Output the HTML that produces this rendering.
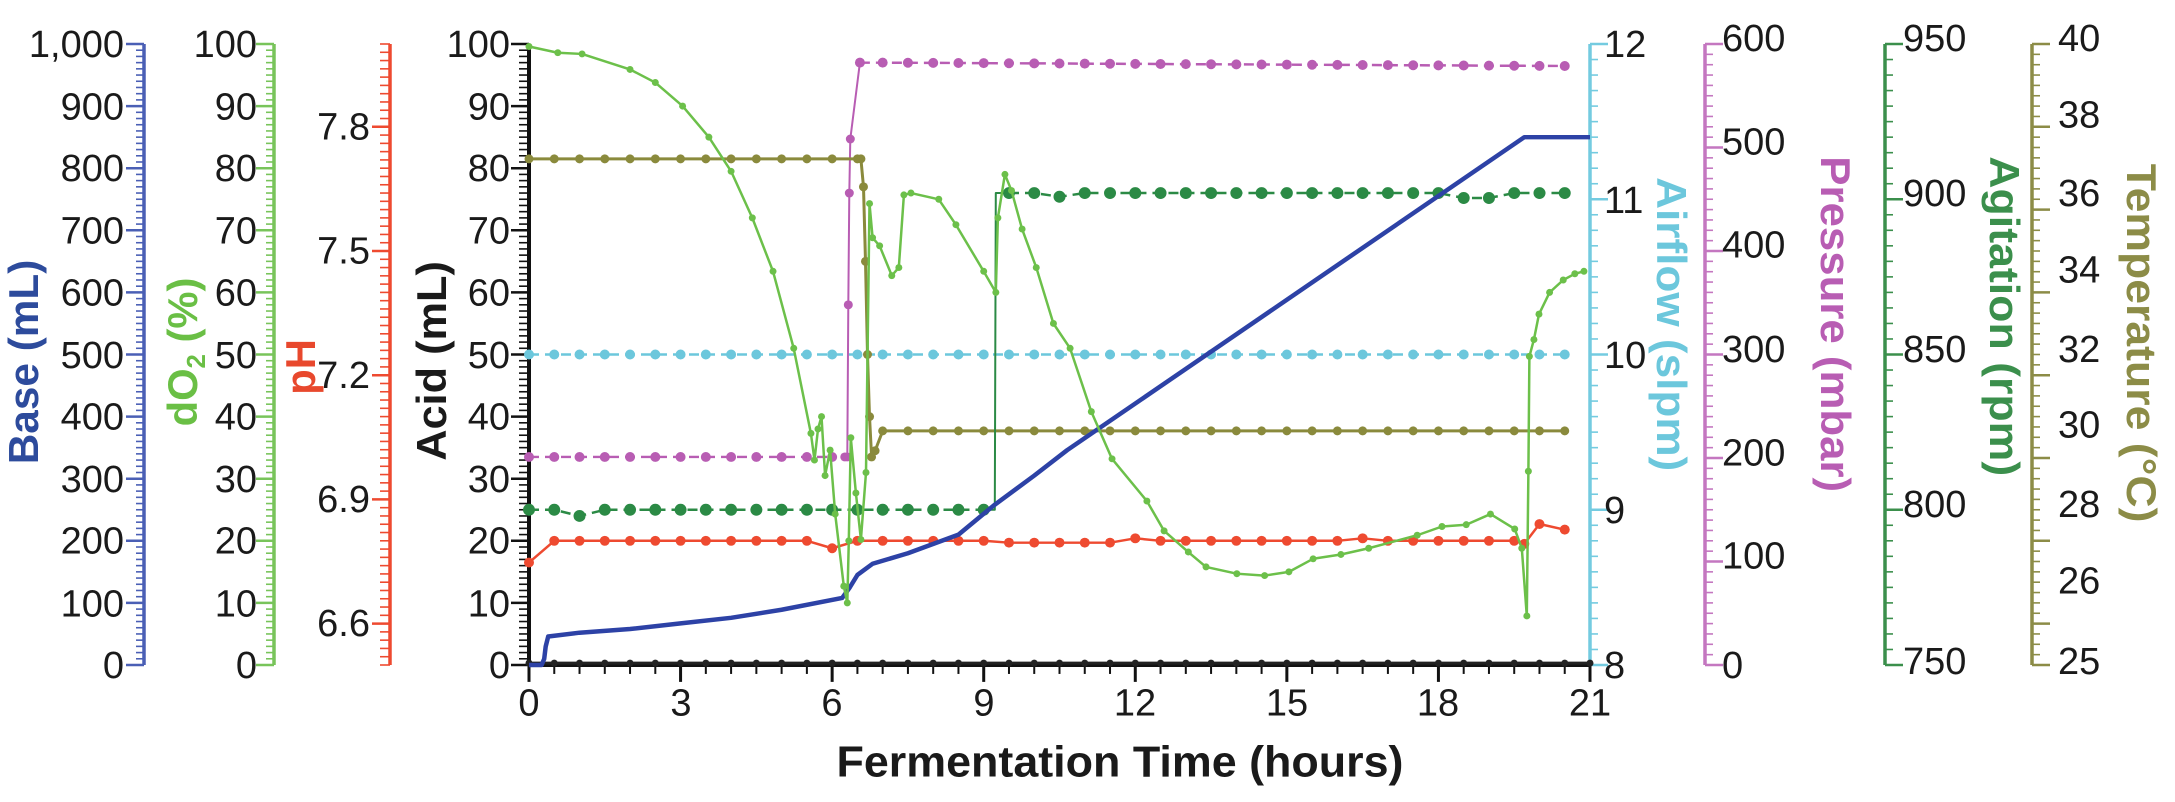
<!DOCTYPE html>
<html><head><meta charset="utf-8">
<style>
html,body{margin:0;padding:0;background:#fff;}
svg{display:block;}
text{font-family:"Liberation Sans",sans-serif;}
.tk{font-size:38px;fill:#1a1a1a;}
.tt{font-size:42px;font-weight:bold;}
</style></head>
<body>
<svg id="s" width="2175" height="802" viewBox="0 0 2175 802" xmlns="http://www.w3.org/2000/svg">
<g transform="translate(0,-5.68) scale(1,0.9936)">
<g id="ticks"></g>
<g id="data"></g>
<!-- left tick labels -->
<g class="tk" text-anchor="end">
<text x="124" y="63">1,000</text><text x="124" y="126">900</text><text x="124" y="188">800</text><text x="124" y="251">700</text><text x="124" y="313">600</text><text x="124" y="376">500</text><text x="124" y="438">400</text><text x="124" y="501">300</text><text x="124" y="563">200</text><text x="124" y="626">100</text><text x="124" y="688">0</text>
<text x="257" y="63">100</text><text x="257" y="126">90</text><text x="257" y="188">80</text><text x="257" y="251">70</text><text x="257" y="313">60</text><text x="257" y="376">50</text><text x="257" y="438">40</text><text x="257" y="501">30</text><text x="257" y="563">20</text><text x="257" y="626">10</text><text x="257" y="688">0</text>
<text x="370" y="146">7.8</text><text x="370" y="271">7.5</text><text x="370" y="396">7.2</text><text x="370" y="521">6.9</text><text x="370" y="646">6.6</text>
<text x="510" y="63">100</text><text x="510" y="126">90</text><text x="510" y="188">80</text><text x="510" y="251">70</text><text x="510" y="313">60</text><text x="510" y="376">50</text><text x="510" y="438">40</text><text x="510" y="501">30</text><text x="510" y="563">20</text><text x="510" y="626">10</text><text x="510" y="688">0</text>
</g>
<!-- right tick labels -->
<g class="tk">
<text x="1604" y="63">12</text><text x="1604" y="220">11</text><text x="1604" y="376">10</text><text x="1604" y="532">9</text><text x="1604" y="688">8</text>
<text x="1722" y="57">600</text><text x="1722" y="161">500</text><text x="1722" y="265">400</text><text x="1722" y="370">300</text><text x="1722" y="474">200</text><text x="1722" y="578">100</text><text x="1722" y="688">0</text>
<text x="1903" y="57">950</text><text x="1903" y="213">900</text><text x="1903" y="370">850</text><text x="1903" y="526">800</text><text x="1903" y="684">750</text>
<text x="2058" y="57">40</text><text x="2058" y="134">38</text><text x="2058" y="213">36</text><text x="2058" y="290">34</text><text x="2058" y="370">32</text><text x="2058" y="446">30</text><text x="2058" y="526">28</text><text x="2058" y="603">26</text><text x="2058" y="684">25</text>
</g>
<!-- x tick labels -->
<g class="tk" text-anchor="middle">
<text x="529" y="726">0</text><text x="681" y="726">3</text><text x="832" y="726">6</text><text x="984" y="726">9</text><text x="1135" y="726">12</text><text x="1287" y="726">15</text><text x="1438" y="726">18</text><text x="1590" y="726">21</text>
</g>
<text x="1120" y="787" text-anchor="middle" font-weight="bold" font-size="44" fill="#1a1a1a" textLength="567" lengthAdjust="spacingAndGlyphs">Fermentation Time (hours)</text>
<!-- axis titles -->
<text class="tt" transform="translate(38,370) rotate(-90)" text-anchor="middle" fill="#2d4b9c" textLength="206" lengthAdjust="spacingAndGlyphs">Base (mL)</text>
<text class="tt" transform="translate(197,360) rotate(-90)" text-anchor="middle" fill="#6abf45">dO<tspan font-size="26" dy="8">2</tspan><tspan dy="-8"> (%)</tspan></text>
<text class="tt" transform="translate(315,375) rotate(-90)" text-anchor="middle" fill="#e8482d">pH</text>
<text class="tt" transform="translate(446,369) rotate(-90)" text-anchor="middle" fill="#1a1a1a" textLength="201" lengthAdjust="spacingAndGlyphs">Acid (mL)</text>
<text class="tt" transform="translate(1657,332) rotate(90)" text-anchor="middle" fill="#6cc7dc" textLength="296" lengthAdjust="spacingAndGlyphs">Airflow (slpm)</text>
<text class="tt" transform="translate(1821,332) rotate(90)" text-anchor="middle" fill="#b85db3" textLength="338" lengthAdjust="spacingAndGlyphs">Pressure (mbar)</text>
<text class="tt" transform="translate(1990,324) rotate(90)" text-anchor="middle" fill="#3b8f4c" textLength="322" lengthAdjust="spacingAndGlyphs">Agitation (rpm)</text>
<text class="tt" transform="translate(2127,351) rotate(90)" text-anchor="middle" fill="#8c8c47" textLength="361" lengthAdjust="spacingAndGlyphs">Temperature (°C)</text>
</g>
</svg>
<script>
var NS="http://www.w3.org/2000/svg";
var T=document.getElementById('ticks'),D=document.getElementById('data');
function el(p,n,a){var e=document.createElementNS(NS,n);for(var k in a)e.setAttribute(k,a[k]);p.appendChild(e);return e;}
function ln(p,x1,y1,x2,y2,c,w){el(p,'line',{x1:x1,y1:y1,x2:x2,y2:y2,stroke:c,'stroke-width':w});}
var Y0=675,YT=50,H=625,XA=529,XB=1590;
function axis(x,c,w,nMinor,majorEvery,dir,minLen,majLen,yf,vmin,vmax,step){
  ln(T,x,YT,x,Y0,c,w);
  if(yf){
    for(var v=vmin;v<=vmax+1e-9;v+=step){var y=yf(v);if(y<YT-1||y>Y0+1)continue;
      var m=Math.abs((v-majorEvery.base)/majorEvery.step-Math.round((v-majorEvery.base)/majorEvery.step))<1e-6;
      var L=m?majLen:minLen;ln(T,x,y,x+dir*L,y,c,m?2.5:1.6);}
    return;}
  for(var i=0;i<=nMinor;i++){var y=Y0-H*i/nMinor;var m=i%majorEvery==0;var L=m?majLen:minLen;ln(T,x,y,x+dir*L,y,c,m?2.5:1.6);}
}
axis(144,'#4a5fb5',3.5,100,10,-1,8,18);
axis(274,'#78c45a',3.5,100,10,-1,8,18);
function phY(v){var f=665-(v-6.5)*414;return (f+5.68)/0.9936;}
axis(390,'#ee4a30',3.5,0,{base:6.6,step:0.3},-1,10,18,phY,6.5,8.0,0.02);
axis(XA,'#111',4,100,10,-1,10,18);
axis(1590,'#74cbe0',3.5,40,10,1,8,18);
axis(1705,'#c477c0',3.5,60,10,1,8,18);
axis(1885,'#3b8f4c',3.5,40,10,1,8,18);
function tY(v){return 675-(v-25)*H/15;}
axis(2032,'#8c8c47',3.5,0,{base:40,step:2},1,8,18,tY,25,40,0.25);
ln(T,2032,tY(25),2050,tY(25),'#8c8c47',2.5);
// x axis
ln(T,XA,675,XB,675,'#111',4);
for(var i=0;i<=42;i++){var x=XA+i*(XB-XA)/42;var m=i%6==0;ln(T,x,675,x,m?692:684,'#111',m?3:2);}
function X(t){return XA+t*(XB-XA)/21;}
function V(v){return 675-v*6.25;}
function series(pts,c,w,dash,mr,step){
  var s=pts.map(function(p){return X(p[0]).toFixed(1)+','+V(p[1]).toFixed(1);}).join(' ');
  var a={points:s,fill:'none',stroke:c,'stroke-width':w,'stroke-linejoin':'round'};if(dash)a['stroke-dasharray']=dash;
  el(D,'polyline',a);
  if(mr){pts.forEach(function(p,i){if(!step||i%step==0)el(D,'circle',{cx:X(p[0]),cy:V(p[1]),r:mr,fill:c});});}
}
function flat(t0,t1,v,dt,jit){var a=[];for(var t=t0;t<=t1+1e-9;t+=dt)a.push([t,v+(jit?jit(t):0)]);return a;}
// acid
var ac=flat(0,21,0.3,0.5);series(ac,'#222',3,null,3.5);
// airflow
series(flat(0,20.5,50,0.5),'#6cc7dc',2.5,'10,6',5);
// pressure
var pr1=flat(0,6.25,33.5,0.5,function(t){return (t>3&&t<3.3)?-0.3:0;});
series(pr1,'#b85db3',2.5,'10,6',5);
series([[6.25,33.5],[6.3,33.5],[6.32,58],[6.34,76],[6.36,84.7],[6.55,97]],'#b85db3',2,null,4.5);
var pr2=[[6.55,97]].concat(flat(7,20.5,97,0.5,function(t){return -0.04*(t-7);}));
series(pr2,'#b85db3',2.5,'10,6',5);
// temperature
var tp=flat(0,6.5,81.5,0.5);tp=tp.concat([[6.57,81.5],[6.62,77],[6.66,65],[6.7,50],[6.74,40],[6.78,33.5],[6.85,34.5],[7.0,37.7]]);
tp=tp.concat(flat(7.5,20.5,37.7,0.5));
series(tp,'#8a8a3c',3,null,4.5);
// agitation
var ag1=flat(0,9.2,25,0.5,function(t){return Math.abs(t-1)<0.1?-1:0;});
series(ag1,'#2b8a45',2.5,'10,6',6);
series([[9.0,25],[9.22,25],[9.24,76],[9.5,76]],'#2b8a45',2,null,0);
var ag2=flat(9.5,20.5,76,0.5,function(t){return (t>18.3&&t<19.2)?-0.8:(Math.abs(t-10.5)<0.1?-0.6:0);});
series(ag2,'#2b8a45',2.5,'10,6',6);
// pH
var ph=[[0,16.5]].concat(flat(0.5,19.5,20,0.5,function(t){return Math.abs(t-6)<0.1?-1.2:(Math.abs(t-12)<0.3||Math.abs(t-16.5)<0.1?0.4:-0.3*(t>9&&t<12));}));
ph=ph.concat([[19.7,19.5],[20,22.7],[20.5,21.8]]);
series(ph,'#ee4a30',2.5,null,5);
// base
var bs=[[0,0],[0.25,0],[0.3,1],[0.33,3],[0.38,4.6]];
[[1,5.2],[2,5.8],[3,6.7],[4,7.6],[5,8.9],[6.2,10.8],[6.35,12.5],[6.5,14.5],[6.8,16.3],[7.5,18],[8.5,21],[9.2,25.7],[10,30.5],[10.65,34.6],[19.7,85],[21,85]].forEach(function(p){bs.push(p);});
series(bs,'#2d42a6',4.5,null,0);
// dO2
var dO=[[0,99.6],[0.57,98.6],[1.05,98.4],[2.0,95.9],[2.5,93.8],[3.04,90],[3.56,85],[4.0,79.5],[4.42,72],[4.83,63.4],[5.24,51],[5.58,37.3],[5.65,33],[5.72,38],[5.79,40],[5.86,30.5],[5.96,34.6],[6.06,24.3],[6.23,12.7],[6.3,10],[6.33,20],[6.37,36.6],[6.47,27.7],[6.57,20.2],[6.67,31],[6.74,74.3],[6.8,68.8],[6.94,67.5],[7.18,62.7],[7.32,64],[7.42,75.7],[7.56,76],[8.11,75],[8.45,70.9],[9.0,63.4],[9.24,60],[9.28,72],[9.42,79],[9.55,76.4],[9.76,70.2],[10.04,64],[10.38,55],[10.71,51],[11.13,40.8],[11.54,33.2],[12.23,26.4],[12.57,21.6],[13.05,18.2],[13.4,15.8],[14.01,14.7],[14.56,14.4],[15.04,15],[15.52,17.1],[16.07,17.8],[16.62,18.8],[17.58,20.9],[18.07,22.3],[18.55,22.6],[19.03,24.3],[19.51,21.9],[19.65,18.8],[19.75,7.9],[19.78,31.2],[19.8,49.7],[19.89,52.4],[19.99,56.5],[20.2,60],[20.47,62],[20.7,63],[20.88,63.4]];
series(dO,'#6cc04a',2.5,null,3.5);
</script>
</body></html>
